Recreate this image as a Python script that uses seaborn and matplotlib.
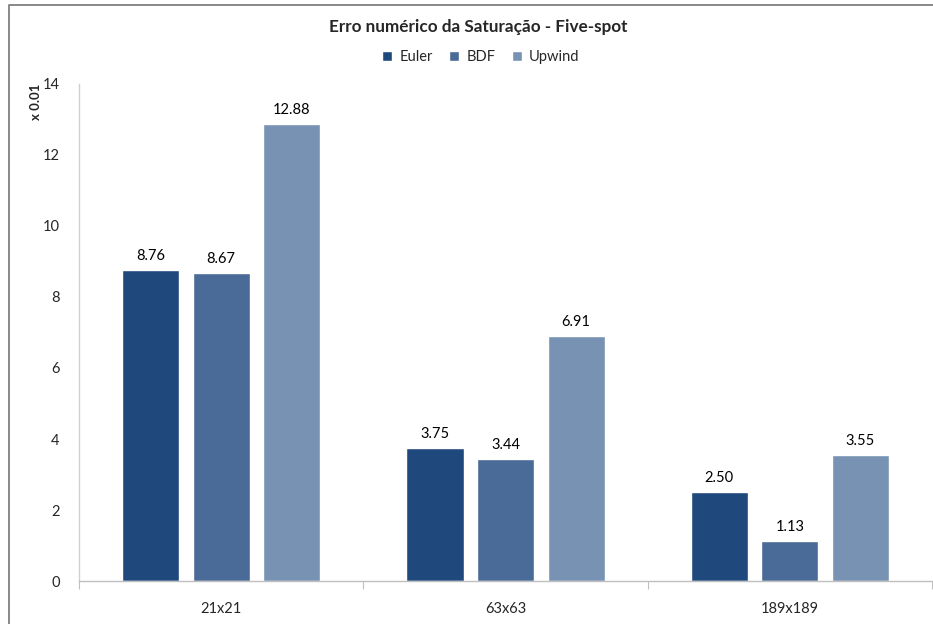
import pandas as pd
import numpy as np
import matplotlib.pyplot as plt
import seaborn as sns
from matplotlib.lines import Line2D

# Data (values x 0.01)
grids = ['21x21', '63x63', '189x189']
methods = ['Euler', 'BDF', 'Upwind']
euler = [8.76, 3.75, 2.50]
bdf = [8.67, 3.44, 1.13]
upwind = [12.88, 6.91, 3.55]
yticks = [0, 2, 4, 6, 8, 10, 12, 14]

colors = ['#1f497d', '#4a6b97', '#7892b4']

df = pd.DataFrame({
    'grid': grids * 3,
    'method': [m for m in methods for _ in grids],
    'erro': euler + bdf + upwind,
})

sns.set_style('white')
plt.rcParams['font.family'] = ['Lato', 'DejaVu Sans']

fig = plt.figure(figsize=(9.33, 6.24), dpi=100)
ax = fig.add_axes([0.0847, 0.0689, 0.9143, 0.7965])

sns.barplot(data=df, x='grid', y='erro', hue='method', hue_order=methods,
            order=grids, palette=colors, width=0.745, gap=0.19,
            saturation=1, ax=ax, legend=True)

for cont in ax.containers:
    ax.bar_label(cont, fmt='%.2f', padding=5, fontsize=10.5, color='black')

ax.set_ylim(0, 14)
ax.set_yticks(yticks)
ax.set_xlim(-0.5, len(grids) - 0.5)
ax.set_xlabel('')
ax.set_ylabel('')
ax.tick_params(axis='y', length=5, width=0.8, color='#bfbfbf', labelsize=10.5, pad=9)
ax.tick_params(axis='x', length=0, labelsize=10.5, pad=15)
ax.set_xticks(np.arange(len(grids) + 1) - 0.5, minor=True)
ax.tick_params(axis='x', which='minor', length=6, width=0.8, color='#bfbfbf', bottom=True)

for side in ['top', 'right']:
    ax.spines[side].set_visible(False)
ax.spines['left'].set_color('#d0d0d0')
ax.spines['bottom'].set_color('#bfbfbf')
ax.spines['left'].set_linewidth(1.0)
ax.spines['bottom'].set_linewidth(1.0)

ax.text(-0.05, 1.0, 'x 0.01', transform=ax.transAxes, rotation=90,
        fontsize=9.5, fontweight='bold', ha='center', va='top')

ax.legend(loc='center', bbox_to_anchor=(0.471, 1.054), ncol=3, frameon=False,
          fontsize=10.5, handlelength=0.7, handleheight=0.7, handletextpad=0.5,
          columnspacing=1.1)

fig.text(0.512, 0.957, 'Erro numérico da Saturação - Five-spot',
         ha='center', va='center', fontsize=12.3, fontweight='bold')

# chart frame (top and left edges)
fig.add_artist(Line2D([9 / 933, 9 / 933, 1.0], [0.0, 1 - 5 / 624, 1 - 5 / 624],
                      transform=fig.transFigure, color='#7f7f7f', lw=1.3))

fig.savefig('out.png', dpi=100)
